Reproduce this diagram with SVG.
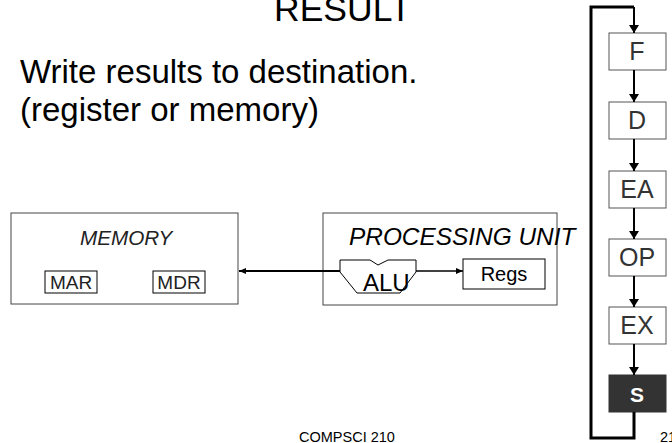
<svg xmlns="http://www.w3.org/2000/svg" width="672" height="443" viewBox="0 0 672 443">
  <style>
    text { font-family: "Liberation Sans", Arial, sans-serif; }
    .stage { fill: #ffffff; stroke: #555555; stroke-width: 1; }
    .stage-text { font-size: 25px; fill: #333333; text-anchor: middle; }
    .flow { fill: none; stroke: #000000; stroke-width: 2; }
    .loop { fill: none; stroke: #000000; stroke-width: 3; }
    .unit { fill: #ffffff; stroke: #444444; stroke-width: 1; }
    .reg { fill: #ffffff; stroke: #000000; stroke-width: 1; }
  </style>
  <defs>
    <marker id="head" markerUnits="userSpaceOnUse" markerWidth="8" markerHeight="10" refX="8" refY="5" orient="auto">
      <path d="M0,0 L8,5 L0,10 Z" fill="#000000"/>
    </marker>
    <marker id="head-small" markerUnits="userSpaceOnUse" markerWidth="7" markerHeight="6" refX="7" refY="3" orient="auto">
      <path d="M0,0 L7,3 L0,6 Z" fill="#000000"/>
    </marker>
  </defs>

  <rect width="672" height="443" fill="#ffffff"/>

  <!-- heading and description -->
  <text x="274" y="21" font-size="35.5">RESULT</text>
  <text x="20" y="83" font-size="33">Write results to destination.</text>
  <text x="20" y="121" font-size="33">(register or memory)</text>

  <!-- memory unit -->
  <g id="memory">
    <rect class="unit" x="11" y="213" width="227" height="91" stroke="#333333"/>
    <text x="80" y="245" font-size="20.7" font-style="italic" fill="#222222">MEMORY</text>
    <g id="mar">
      <rect class="reg" x="45" y="271" width="52" height="22"/>
      <text x="71" y="289" font-size="19" text-anchor="middle" fill="#222222">MAR</text>
    </g>
    <g id="mdr">
      <rect class="reg" x="153" y="271" width="52" height="22"/>
      <text x="179" y="289" font-size="19" text-anchor="middle" fill="#222222">MDR</text>
    </g>
  </g>

  <!-- processing unit -->
  <g id="processing-unit">
    <rect class="unit" x="323" y="213" width="234" height="92" stroke="#555555"/>
    <g id="alu">
      <polygon points="340,260 370,260 378,265 388,260 416,260 416,272 400,293 357,293 340,272" fill="#ffffff" stroke="#000000" stroke-width="1"/>
      <text x="363" y="291" font-size="24">ALU</text>
    </g>
    <g id="regs">
      <rect class="reg" x="463" y="259" width="82" height="30"/>
      <text x="504" y="281" font-size="20" text-anchor="middle">Regs</text>
    </g>
  </g>

  <!-- instruction cycle stages -->
  <g id="stage-f">
    <rect class="stage" x="609" y="33" width="57" height="37"/>
    <text class="stage-text" x="637" y="60">F</text>
  </g>
  <g id="stage-d">
    <rect class="stage" x="609" y="102" width="57" height="37"/>
    <text class="stage-text" x="637" y="129">D</text>
  </g>
  <g id="stage-ea">
    <rect class="stage" x="609" y="171" width="57" height="37"/>
    <text class="stage-text" x="637" y="198">EA</text>
  </g>
  <g id="stage-op">
    <rect class="stage" x="609" y="239" width="57" height="37"/>
    <text class="stage-text" x="637" y="266">OP</text>
  </g>
  <g id="stage-ex">
    <rect class="stage" x="609" y="307" width="57" height="37"/>
    <text class="stage-text" x="637" y="334">EX</text>
  </g>
  <g id="stage-s">
    <rect x="609" y="375" width="57" height="37" fill="#333333" stroke="#333333" stroke-width="1"/>
    <text x="637" y="402" font-size="21" font-weight="bold" fill="#ffffff" text-anchor="middle">S</text>
  </g>

  <!-- connectors, drawn over the unit outlines -->
  <g id="connectors">
    <path class="loop" d="M634,412 V438 H591 V7 H634"/>
    <path class="flow" d="M634,7 V33" marker-end="url(#head)"/>
    <path class="flow" d="M634,70 V102" marker-end="url(#head)"/>
    <path class="flow" d="M634,139 V171" marker-end="url(#head)"/>
    <path class="flow" d="M634,208 V239" marker-end="url(#head)"/>
    <path class="flow" d="M634,276 V307" marker-end="url(#head)"/>
    <path class="flow" d="M634,344 V375" marker-end="url(#head)"/>
    <path class="flow" d="M340,271 H239" marker-end="url(#head-small)"/>
    <path fill="none" stroke="#000000" stroke-width="1.5" d="M416,271 H463" marker-end="url(#head-small)"/>
  </g>

  <!-- unit title sits on top of the box edge it overruns -->
  <text x="349" y="245" font-size="24.4" font-style="italic">PROCESSING UNIT</text>

  <!-- footer -->
  <text x="299" y="442" font-size="14.5">COMPSCI 210</text>
  <text x="660" y="442" font-size="14.5">21</text>
</svg>
